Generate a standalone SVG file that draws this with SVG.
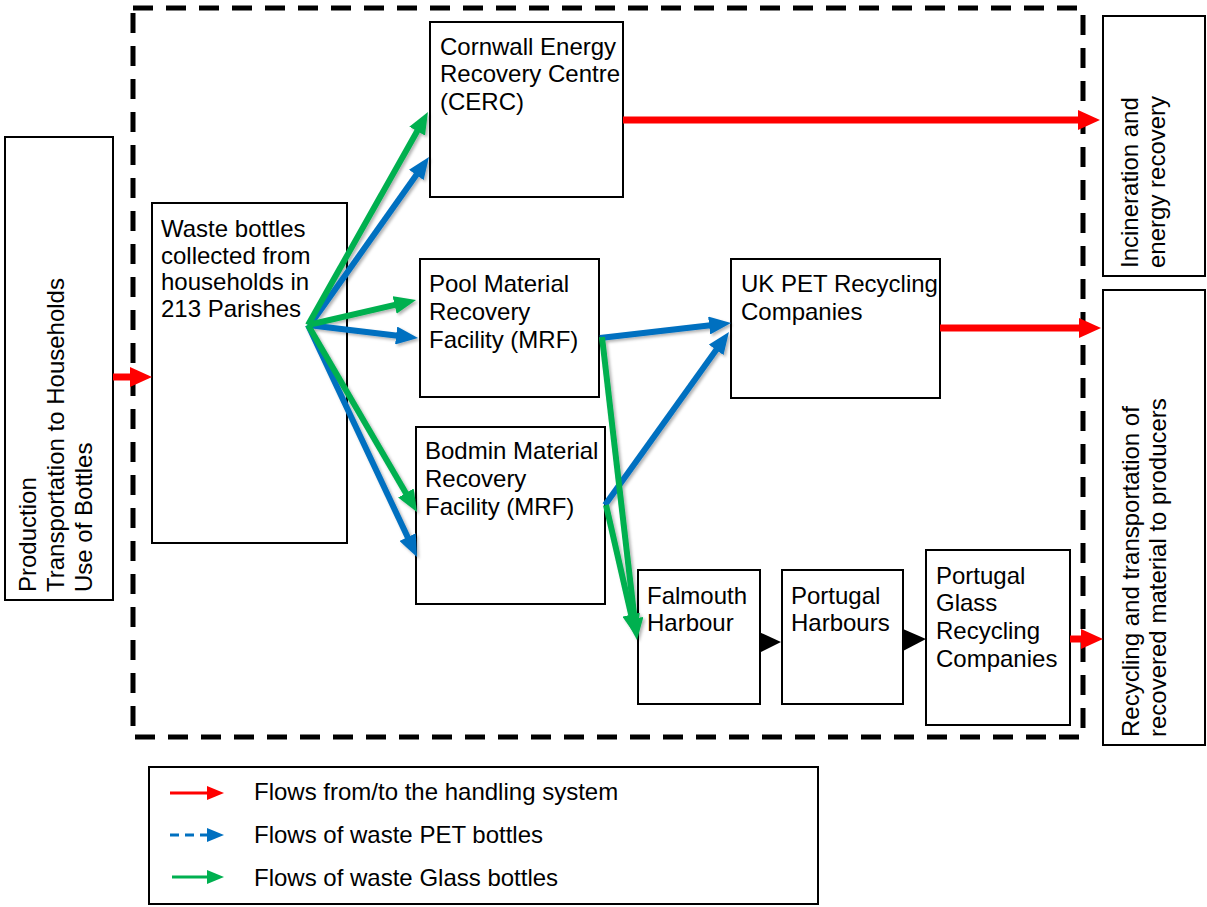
<svg xmlns="http://www.w3.org/2000/svg" width="1207" height="907" viewBox="0 0 1207 907">
<style>
text{font-family:"Liberation Sans",Arial,sans-serif;font-size:24px;fill:#000}
.box{fill:#fff;stroke:#000;stroke-width:2}
.red{stroke:#FF0000;stroke-width:7;fill:none}
.grn{stroke:#00B050;stroke-width:6;fill:none}
.blu{stroke:#0070C0;stroke-width:6;fill:none}
.leg{font-size:24px}
</style>
<defs>
<marker id="hr" markerUnits="userSpaceOnUse" markerWidth="22" markerHeight="20" viewBox="0 0 22 20" refX="8" refY="10" orient="auto"><path d="M0,0 L22,10 L0,20 z" fill="#FF0000"/></marker>
<marker id="hg" markerUnits="userSpaceOnUse" markerWidth="22" markerHeight="18" viewBox="0 0 22 18" refX="8" refY="9" orient="auto"><path d="M0,0 L22,9 L0,18 z" fill="#00B050"/></marker>
<marker id="hb" markerUnits="userSpaceOnUse" markerWidth="22" markerHeight="18" viewBox="0 0 22 18" refX="8" refY="9" orient="auto"><path d="M0,0 L22,9 L0,18 z" fill="#0070C0"/></marker>
<filter id="sh" x="-20%" y="-20%" width="140%" height="140%"><feDropShadow dx="2" dy="2" stdDeviation="1.5" flood-color="#000" flood-opacity="0.3"/></filter>
</defs>

<rect x="133" y="8" width="950" height="729" fill="none" stroke="#000" stroke-width="5" stroke-dasharray="20 13"/>

<g id="production"><rect class="box" x="5" y="137" width="108" height="463"/>
<text transform="translate(36,592) rotate(-90)"><tspan x="0" y="0">Production</tspan><tspan x="0" y="28">Transportation to Households</tspan><tspan x="0" y="56">Use of Bottles</tspan></text></g>

<g id="waste"><rect class="box" x="152" y="203" width="195" height="340"/>
<text><tspan x="161" y="237">Waste bottles</tspan><tspan x="161" y="264">collected from</tspan><tspan x="161" y="290">households in</tspan><tspan x="161" y="317">213 Parishes</tspan></text></g>

<g id="cerc"><rect class="box" x="430" y="22" width="193" height="175"/>
<text><tspan x="440" y="55">Cornwall Energy</tspan><tspan x="440" y="82">Recovery Centre</tspan><tspan x="440" y="110">(CERC)</tspan></text></g>

<g id="pool"><rect class="box" x="420" y="259" width="179" height="138"/>
<text><tspan x="429" y="292">Pool Material</tspan><tspan x="429" y="320">Recovery</tspan><tspan x="429" y="348">Facility (MRF)</tspan></text></g>

<g id="bodmin"><rect class="box" x="416" y="427" width="189" height="177"/>
<text><tspan x="425" y="459">Bodmin Material</tspan><tspan x="425" y="487">Recovery</tspan><tspan x="425" y="515">Facility (MRF)</tspan></text></g>

<g id="ukpet"><rect class="box" x="731" y="259" width="209" height="139"/>
<text><tspan x="741" y="292">UK PET Recycling</tspan><tspan x="741" y="320">Companies</tspan></text></g>

<g id="falmouth"><rect class="box" x="638" y="570" width="122" height="134"/>
<text><tspan x="647" y="604">Falmouth</tspan><tspan x="647" y="631">Harbour</tspan></text></g>

<g id="portharb"><rect class="box" x="782" y="570" width="121" height="134"/>
<text><tspan x="791" y="604">Portugal</tspan><tspan x="791" y="631">Harbours</tspan></text></g>

<g id="portglass"><rect class="box" x="926" y="550" width="144" height="175"/>
<text><tspan x="936" y="584">Portugal</tspan><tspan x="936" y="611">Glass</tspan><tspan x="936" y="639">Recycling</tspan><tspan x="936" y="667">Companies</tspan></text></g>

<g id="incineration"><rect class="box" x="1103" y="16" width="102" height="260"/>
<text transform="translate(1138,268) rotate(-90)"><tspan x="0" y="0">Incineration and</tspan><tspan x="0" y="27">energy recovery</tspan></text></g>

<g id="recycling"><rect class="box" x="1103" y="290" width="102" height="455"/>
<text transform="translate(1139,737) rotate(-90)"><tspan x="0" y="0">Recycling and transportation of</tspan><tspan x="0" y="27">recovered material to producers</tspan></text></g>

<g id="connectors">
<line class="red" x1="113" y1="377" x2="138" y2="377" marker-end="url(#hr)"/>
<line class="red" x1="623" y1="120" x2="1086" y2="120" marker-end="url(#hr)"/>
<line class="red" x1="940" y1="328" x2="1087" y2="328" marker-end="url(#hr)"/>
<line class="red" x1="1070" y1="639" x2="1089" y2="639" marker-end="url(#hr)"/>
<g filter="url(#sh)">
<line class="blu" x1="310" y1="325" x2="420.9" y2="168.4" marker-end="url(#hb)"/>
<line class="grn" x1="308" y1="325" x2="421.1" y2="124.2" marker-end="url(#hg)"/>
<line class="blu" x1="308" y1="325" x2="404.1" y2="336.4" marker-end="url(#hb)"/>
<line class="grn" x1="308" y1="325" x2="402.4" y2="303.2" marker-end="url(#hg)"/>
<line class="blu" x1="308" y1="325" x2="411" y2="544.3" marker-end="url(#hb)"/>
<line class="grn" x1="308" y1="325" x2="409.9" y2="499.9" marker-end="url(#hg)"/>
<line class="blu" x1="600" y1="338" x2="717.1" y2="324.6" marker-end="url(#hb)"/>
<line class="blu" x1="605" y1="505" x2="720.8" y2="343.4" marker-end="url(#hb)"/>
<line class="grn" x1="602" y1="337" x2="635.4" y2="626.1" marker-end="url(#hg)"/>
<line class="grn" x1="606" y1="505" x2="632.9" y2="622.4" marker-end="url(#hg)"/>
</g>
<polygon points="759,632 781,642 759,653" fill="#000"/>
<polygon points="903,629 926,639 903,651" fill="#000"/>
</g>

<g id="legend"><rect class="box" x="149" y="767" width="669" height="137"/>
<line x1="170" y1="793" x2="210" y2="793" stroke="#FF0000" stroke-width="3"/><polygon points="207,786 224,793 207,800" fill="#FF0000"/>
<line x1="170" y1="835" x2="208" y2="835" stroke="#0070C0" stroke-width="3" stroke-dasharray="9 6"/><polygon points="207,828 224,835 207,842" fill="#0070C0"/>
<line x1="172" y1="877" x2="210" y2="877" stroke="#00B050" stroke-width="3"/><polygon points="207,870 224,877 207,884" fill="#00B050"/>
<text class="leg"><tspan x="254" y="800">Flows from/to the handling system</tspan><tspan x="254" y="843">Flows of waste PET bottles</tspan><tspan x="254" y="886">Flows of waste Glass bottles</tspan></text>
</g>
</svg>
